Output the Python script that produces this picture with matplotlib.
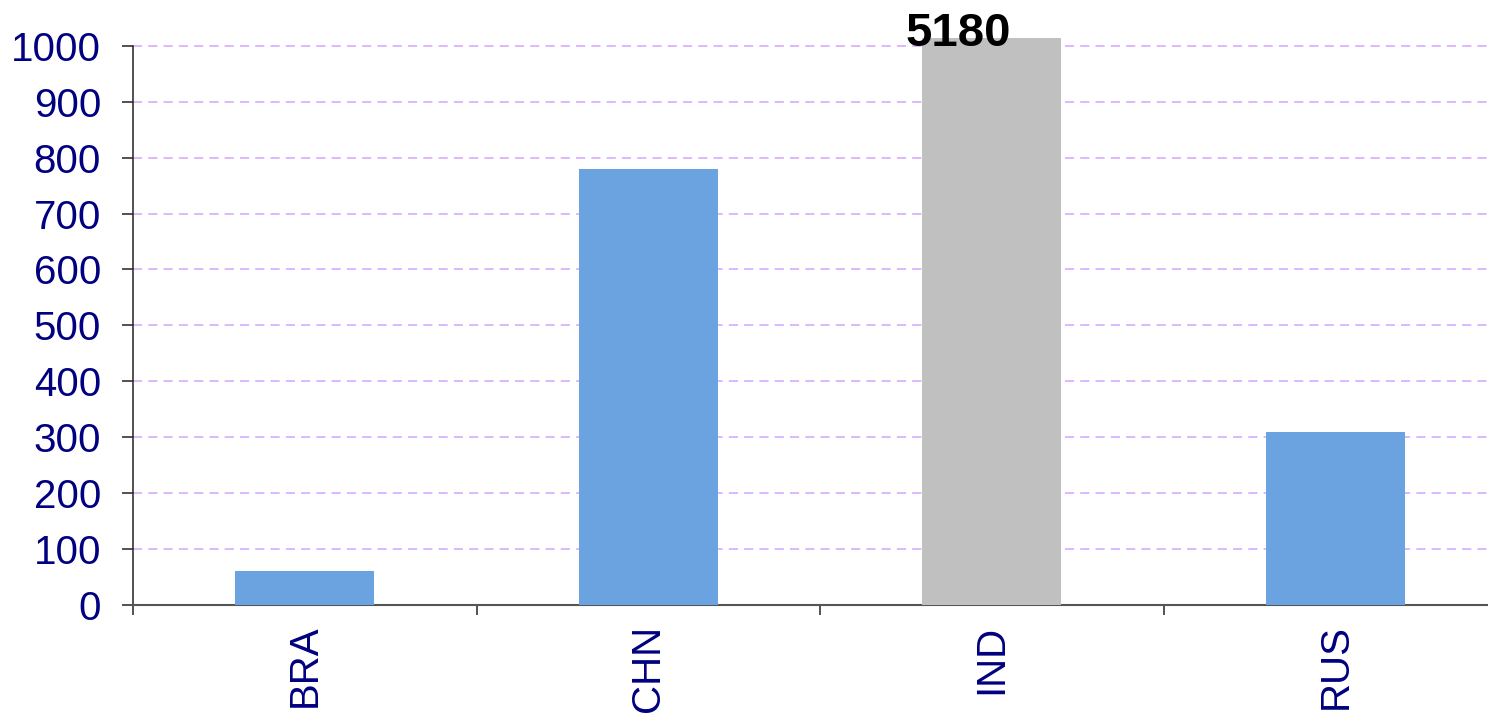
import matplotlib
matplotlib.use("Agg")
import matplotlib.pyplot as plt
from matplotlib.ticker import FixedLocator

categories = ["BRA", "CHN", "IND", "RUS"]
values = [61, 780, 5180, 310]
bar_colors = ["#6aa3df", "#6aa3df", "#c0c0c0", "#6aa3df"]
y_ticks = [0, 100, 200, 300, 400, 500, 600, 700, 800, 900, 1000]
label_text = "5180"

plt.rcParams['font.family'] = ['Liberation Sans', 'DejaVu Sans']

W, H = 1488, 718
fig = plt.figure(figsize=(W / 100, H / 100), dpi=100)
left_px, right_px, top_px, bottom_px = 133, 1507, 38, 605
ax = fig.add_axes([left_px / W, 1 - bottom_px / H, (right_px - left_px) / W, (bottom_px - top_px) / H])

x = list(range(len(categories)))
ax.bar(x, values, width=0.405, color=bar_colors, zorder=3)
ax.set_xlim(-0.5, len(categories) - 0.5)
ax.set_ylim(0, 1014)

ax.set_yticks(y_ticks)
ax.set_yticklabels([str(v) for v in y_ticks])
ax.yaxis.grid(True, linestyle=(0, (6, 4)), color="#d3a6ff", linewidth=1.1, zorder=0)
ax.set_axisbelow(True)

ax.set_xticks(x)
ax.set_xticklabels(categories, rotation=90, color="#000080", fontsize=29)
ax.xaxis.set_minor_locator(FixedLocator([i - 0.5 for i in range(len(categories) + 1)]))
ax.tick_params(axis="x", which="major", length=0, pad=14)
ax.tick_params(axis="x", which="minor", length=7, width=1.1, color="#222222")
ax.tick_params(axis="y", length=8, width=1.1, color="#222222", labelsize=29, labelcolor="#000080", pad=15)

for s in ["top", "right"]:
    ax.spines[s].set_visible(False)
ax.spines["left"].set_bounds(0, 1000)
ax.spines["left"].set_color("#222222")
ax.spines["bottom"].set_color("#555555")
ax.spines["left"].set_linewidth(1.1)
ax.spines["bottom"].set_linewidth(1.5)

ax.annotate(label_text, xy=(2, 1014), xytext=(-24, 3), textcoords="offset points",
            ha="center", va="center", fontsize=34, fontweight="bold", color="black",
            annotation_clip=False, zorder=5)

fig.savefig("out.png", dpi=100)
